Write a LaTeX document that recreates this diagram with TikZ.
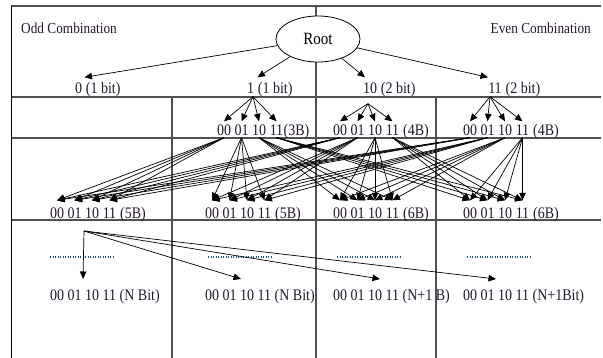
\documentclass[tikz,border=0pt]{standalone}
\usepackage{fontspec}
\setmainfont{Liberation Serif}
\usetikzlibrary{arrows.meta,shapes.geometric}
\definecolor{txt}{HTML}{24162F}
\definecolor{gridc}{HTML}{505050}
\definecolor{dotc}{HTML}{1D5470}

% text set slightly taller than wide
\newcommand\tx[1]{\scalebox{1}[1.15]{#1}}

% one row of the four 2-bit codes followed by a size tag
% #1 name prefix, #2 left x, #3 centre y, #4 gap before tag, #5 tag
\newcommand\bitrow[5]{%
  \foreach \t [count=\k] in {00,01,10,11}
    \node[tok] (#1\k) at ({#2+7+(\k-1)*17.5},#3) {\tx{\t}};
  \node[tok, anchor=base west] (#1s) at ([xshift=#4]#14.base east) {\tx{#5}};
}

\begin{document}
\begin{tikzpicture}[x=1pt,y=-1pt,
  tok/.style={font=\fontsize{14}{16}\selectfont, text=txt, inner sep=0pt,
              text height=11pt, text depth=0pt},
  arr/.style={-{Triangle[length=7.5pt,width=6.5pt]}, line width=0.7pt, black},
  frame/.style={gridc, line width=1.1pt},
  dotrow/.style={dotc, line width=1.6pt, dash pattern=on 1.2pt off 1.3pt}]
\useasboundingbox (0,0) rectangle (603,358);

% table grid
\draw[frame] (11,6) -- (601,6);
\draw[frame] (11,97) -- (601,97);
\draw[frame] (11,138) -- (601,138);
\draw[frame] (11,220) -- (601,220);
\draw[black, line width=0.8pt] (11,6) -- (11,358);
\draw[frame] (172,97) -- (172,358);
\draw[frame] (316,6) -- (316,358);
\draw[frame] (436,97) -- (436,358);

% root
\node[ellipse, draw, fill=white, line width=0.8pt, minimum width=84pt,
      minimum height=46pt, inner sep=0pt, font=\fontsize{15}{17}\selectfont]
  (root) at (318,39) {\tx{Root}};

\node[tok, font=\fontsize{13.3}{15}\selectfont, anchor=west] (odd) at (21,28) {\tx{Odd Combination}};
\node[tok, font=\fontsize{13.3}{15}\selectfont, anchor=east] (even) at (591,28) {\tx{Even Combination}};

% first level
\node[tok] (d0) at (78.5,88) {\tx{0}};
\node[tok, anchor=base west] (d0s) at ([xshift=3.5pt]d0.base east) {\tx{(1 bit)}};
\node[tok] (d1) at (250.5,88) {\tx{1}};
\node[tok, anchor=base west] (d1s) at ([xshift=3.5pt]d1.base east) {\tx{(1 bit)}};
\node[tok] (d10) at (370,88) {\tx{10}};
\node[tok, anchor=base west] (d10s) at ([xshift=3.5pt]d10.base east) {\tx{(2 bit)}};
\node[tok] (d11) at (495,88) {\tx{11}};
\node[tok, anchor=base west] (d11s) at ([xshift=3.5pt]d11.base east) {\tx{(2 bit)}};

\draw[arr] (root) -- ([xshift=6pt,yshift=5pt]d0.north);
\draw[arr] (root) -- ([xshift=7pt,yshift=5pt]d1.north);
\draw[arr] (root) -- ([xshift=-5pt,yshift=5pt]d10.north);
\draw[arr] (root) -- ([xshift=-7pt,yshift=5pt]d11.north);

% second level
\bitrow{ka}{217}{130}{0pt}{(3B)}
\bitrow{kb}{333}{130}{3.5pt}{(4B)}
\bitrow{kc}{463}{130}{3.5pt}{(4B)}

\foreach \k in {1,...,4}{
  \draw[arr] ([xshift=2.5pt,yshift=-3pt]d1.south) -- ([yshift=3pt]ka\k.north);
  \draw[arr] ([xshift=-2pt,yshift=-10pt]d10.south) -- ([yshift=3pt]kb\k.north);
  \draw[arr] ([xshift=-5pt,yshift=-3pt]d11.south) -- ([yshift=3pt]kc\k.north);
}

% third level
\bitrow{ga}{50}{213}{3.5pt}{(5B)}
\bitrow{gb}{205}{213}{3.5pt}{(5B)}
\bitrow{gc}{333}{213}{3.5pt}{(6B)}
\bitrow{gd}{463}{213}{3.5pt}{(6B)}

% every code of the second level feeds the matching group of the third
\foreach \g [count=\i] in {ga,gb,gc,gd}
  \foreach \s in {ka,kb,kc}
    \foreach \j in {1,...,4}
      \draw[arr] ([yshift=-2pt]\s\i.south) -- ([yshift=7pt]\g\j.north);

% last level
\draw[dotrow] (50,257) -- (113,257);
\draw[dotrow] (208,257) -- (271,257);
\draw[dotrow] (337,257) -- (400,257);
\draw[dotrow] (467,257) -- (530,257);

\node[tok, anchor=west] (na) at (50,295) {\tx{00 01 10 11 (N Bit)}};
\node[tok, anchor=west] (nb) at (205,295) {\tx{00 01 10 11 (N Bit)}};
\node[tok, anchor=west] (nc) at (333,295) {\tx{00 01 10 11 (N+1 B)}};
\node[tok, anchor=west] (nd) at (463,295) {\tx{00 01 10 11 (N+1Bit)}};

\coordinate (o) at (84,231);
\coordinate (e1) at (83,279);
\coordinate (e2) at (241,279);
\coordinate (e3) at (380,279);
\coordinate (e4) at (496,279);
\foreach \e in {e1,e2,e3,e4}
  \draw[arr] (o) -- (\e);
\end{tikzpicture}
\end{document}
